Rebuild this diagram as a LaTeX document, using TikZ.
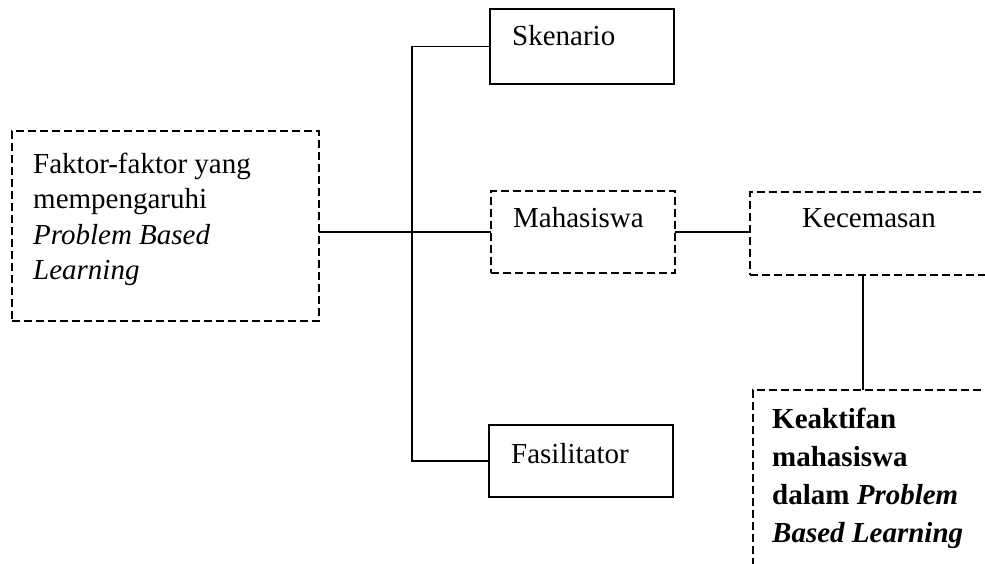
\documentclass[tikz,border=0pt]{standalone}
\usepackage{fontspec}
\setmainfont{Liberation Serif}
\begin{document}
\begin{tikzpicture}[x=1pt,y=-1pt,
  box/.style={draw=black,line width=2pt,inner sep=0pt,outer sep=0pt,anchor=north west},
  dbox/.style={box,line width=2.3pt,dash pattern=on 8pt off 4pt},
  lbl/.style={inner sep=0pt,anchor=base west,font=\fontsize{29}{35}\selectfont},
  conn/.style={draw=black,line width=1.8pt}]
\useasboundingbox (0,0) rectangle (985,564);
\clip (0,0) rectangle (985,564);
% boxes
\node[dbox,minimum width=307pt,minimum height=190pt] (fak) at (12,131) {};
\node[box,minimum width=184pt,minimum height=75pt] (sken) at (490,9) {};
\node[dbox,minimum width=184pt,minimum height=82pt] (maha) at (491,191) {};
\node[box,minimum width=184pt,minimum height=72pt] (fasi) at (489,425) {};
\node[dbox,minimum width=260pt,minimum height=83pt] (kece) at (750,192) {};
\node[dbox,minimum width=260pt,minimum height=200pt] (keak) at (753,390) {};
% texts
\node[lbl] (tfak1) at (33,174) {Faktor-faktor yang};
\node[lbl] (tfak2) at (33,209) {mempengaruhi};
\node[lbl] (tfak3) at (33,244) {\textit{Problem Based}};
\node[lbl] (tfak4) at (33,279) {\textit{Learning}};
\node[lbl] (tsken) at (512,46) {Skenario};
\node[lbl] (tmaha) at (513,228) {Mahasiswa};
\node[lbl] (tfasi) at (511,463) {Fasilitator};
\node[lbl] (tkece) at (802,228) {Kecemasan};
\node[lbl] (tkeak1) at (772,428) {\textbf{Keaktifan}};
\node[lbl] (tkeak2) at (772,466) {\textbf{mahasiswa}};
\node[lbl] (tkeak3) at (772,504) {\textbf{dalam \textit{Problem}}};
\node[lbl] (tkeak4) at (772,542) {\textbf{\textit{Based Learning}}};
% connectors
\coordinate (trunk) at (412,233);
\coordinate (kdown) at (863,0);
\draw[conn] (fak.east |- maha.west) -- (maha.west);
\draw[conn] (sken.west) -- (trunk |- sken.west) -- (trunk |- fasi.west) -- (fasi.west);
\draw[conn] (maha.east) -- (maha.east -| kece.west);
\draw[conn] (kdown |- kece.south) -- (kdown |- keak.north);
\end{tikzpicture}
\end{document}
